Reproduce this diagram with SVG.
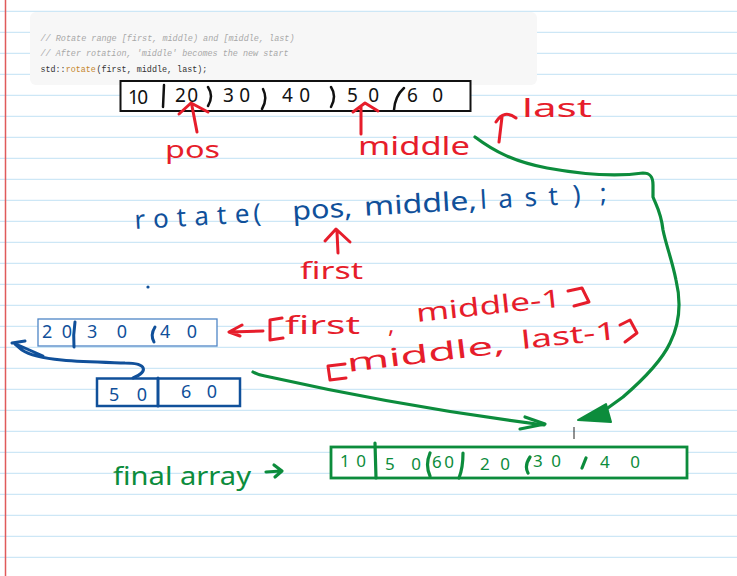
<svg xmlns="http://www.w3.org/2000/svg" width="737" height="576" viewBox="0 0 737 576">
<style>
.paper{stroke:#cde7f6;stroke-width:1.2;fill:none}
.code{font-family:"Liberation Mono","DejaVu Sans Mono",monospace;font-size:9.4px}
.cmt{fill:#a8a8a8;font-style:italic}
.hw{font-family:"Noto Sans","DejaVu Sans",sans-serif}
.blk{fill:#111}
.red{fill:#e61d2b}
.blue{fill:#10509a}
.green{fill:#0c8c3c}
.sRed{stroke:#e61d2b;fill:none;stroke-width:3;stroke-linecap:round;stroke-linejoin:round}
.sBlue{stroke:#10509a;fill:none;stroke-width:3;stroke-linecap:round;stroke-linejoin:round}
.sGreen{stroke:#0c8c3c;fill:none;stroke-width:3.2;stroke-linecap:round;stroke-linejoin:round}
.sBlk{stroke:#111;fill:none;stroke-width:2.5;stroke-linecap:round}
</style>
<rect width="737" height="576" fill="#ffffff"/>
<g id="paper">
<path class="paper" d="M0,11.3H737M0,32.3H737M0,53.3H737M0,74.3H737M0,95.3H737M0,116.3H737M0,137.3H737M0,158.3H737M0,179.3H737M0,200.3H737M0,221.3H737M0,242.3H737M0,263.3H737M0,284.3H737M0,305.3H737M0,326.3H737M0,347.3H737M0,368.3H737M0,389.3H737M0,410.3H737M0,431.3H737M0,452.3H737M0,473.3H737M0,494.3H737M0,515.3H737M0,536.3H737M0,557.3H737"/>
<path d="M5.5,0V576" stroke="#e05a5a" stroke-width="1.5"/>
</g>
<g id="code-block">
<rect x="30" y="12" width="507" height="73" rx="6" fill="#f7f7f7"/>
<text class="code cmt" x="40.5" y="40.5" textLength="254" lengthAdjust="spacingAndGlyphs">// Rotate range [first, middle) and [middle, last)</text>
<text class="code cmt" x="40.5" y="56.3" textLength="248" lengthAdjust="spacingAndGlyphs">// After rotation, 'middle' becomes the new start</text>
<text class="code" x="40.5" y="72" textLength="25" lengthAdjust="spacingAndGlyphs" fill="#333">std::</text>
<text class="code" x="65.8" y="72" textLength="30" lengthAdjust="spacingAndGlyphs" fill="#c5862b">rotate</text>
<text class="code" x="96.4" y="72" textLength="111" lengthAdjust="spacingAndGlyphs" fill="#333">(first, middle, last);</text>
</g>
<g id="array-original">
<rect x="120.5" y="81" width="350" height="30" fill="#ffffff" stroke="#111" stroke-width="2"/>
<path class="sBlk" d="M164,85 L163,107 M208,87 Q214,96 208,106 M263,89 Q268,99 262,109 M331,87 Q337,96 331,107 M404,88 Q395,96 394,110"/>
<g class="hw blk" font-size="19">
<text x="128" y="104" textLength="20">10</text>
<text x="175" y="102" textLength="23">20</text>
<text x="223" y="102" textLength="27">30</text>
<text x="282" y="102" textLength="28">40</text>
<text x="347" y="102" textLength="32">50</text>
<text x="407" y="102" textLength="36">60</text>
</g>
</g>
<g id="label-pos">
<path class="sRed" d="M197,132 L192,106 M179,114 L191,103 L208,112"/>
<text class="hw red" x="165" y="158" font-size="23" textLength="55" lengthAdjust="spacingAndGlyphs">pos</text>
</g>
<g id="label-middle">
<path class="sRed" d="M361,134 L361,107 M353,112 L365,103 L378,111"/>
<text class="hw red" x="358" y="155" font-size="25" textLength="112" lengthAdjust="spacingAndGlyphs">middle</text>
</g>
<g id="label-last">
<path class="sRed" d="M499,142 L502,117 M496,122 Q504,109 516,118"/>
<text class="hw red" x="522" y="117" font-size="25" textLength="70" lengthAdjust="spacingAndGlyphs">last</text>
</g>
<g id="call-rotate" class="hw blue" font-size="26" transform="rotate(-3.3 135 229)">
<text x="135" y="229" textLength="115">rotate</text>
<text x="254" y="229">(</text>
<text x="293" y="229" textLength="60" lengthAdjust="spacingAndGlyphs">pos,</text>
<text x="365" y="229" textLength="113" lengthAdjust="spacingAndGlyphs">middle,</text>
<text x="481" y="229" textLength="78">last</text>
<text x="574" y="229">)</text>
<text x="601" y="229">;</text>
</g>
<g id="label-first">
<path class="sRed" d="M338,253 L337,232 M325,241 L336,229 L350,242"/>
<text class="hw red" x="300" y="279" font-size="23" textLength="63" lengthAdjust="spacingAndGlyphs">first</text>
</g>
<circle id="dot" cx="148" cy="287" r="1.6" fill="#10509a"/>
<g id="array-left">
<rect x="38" y="319" width="179" height="27" fill="#ffffff" stroke="#4f86c6" stroke-width="1.3"/>
<path class="sBlue" stroke-width="2.5" d="M75,322 Q73,335 74,347 M155,327 Q150,335 154,342"/>
<g class="hw blue" font-size="18">
<text x="42" y="338" textLength="30">20</text>
<text x="87" y="338" textLength="40">30</text>
<text x="160" y="338" textLength="37">40</text>
</g>
</g>
<g id="array-right">
<rect x="97" y="378.5" width="143" height="27.5" fill="#ffffff" stroke="#10509a" stroke-width="2.5"/>
<path class="sBlue" stroke-width="2.5" d="M158,378 L158,406"/>
<g class="hw blue" font-size="18">
<text x="109" y="401" textLength="38">50</text>
<text x="181" y="398" textLength="36">60</text>
</g>
</g>
<g id="range-first">
<path class="sRed" d="M263,331 L229,332 M242,325 L229,332 L240,336 M282,318 L270,320 L270,340 L283,338"/>
<text class="hw red" x="285" y="334" font-size="25" textLength="75" lengthAdjust="spacingAndGlyphs">first</text>
<text class="hw red" x="388" y="333" font-size="24">,</text>
<text class="hw red" x="417" y="322" font-size="25" textLength="146" lengthAdjust="spacingAndGlyphs" transform="rotate(-6 417 322)">middle-1</text>
<path class="sRed" d="M568,291 L582,288 L589,302 L574,306"/>
</g>
<g id="range-middle">
<path class="sRed" d="M345,364 L328,366 L330,380 L346,378"/>
<text class="hw red" x="348" y="372" font-size="25" textLength="159" lengthAdjust="spacingAndGlyphs" transform="rotate(-7 348 372)">middle,</text>
<text class="hw red" x="522" y="349" font-size="25" textLength="96" lengthAdjust="spacingAndGlyphs" transform="rotate(-6 522 349)">last-1</text>
<path class="sRed" d="M620,325 L630,320 L637,333 L625,342"/>
</g>
<g id="label-final">
<text class="hw green" x="113" y="485" font-size="25" textLength="138" lengthAdjust="spacingAndGlyphs">final array</text>
<path class="sGreen" stroke-width="2.5" d="M266,472 L281,471 M274,465 L282,471 L275,477"/>
</g>
<g id="array-final">
<rect x="331" y="447" width="356" height="31" fill="#ffffff" stroke="#0c8c3c" stroke-width="2.8"/>
<path class="sGreen" stroke-width="4" d="M375,443 L376,478"/>
<path class="sGreen" stroke-width="2.5" d="M430,453 Q425,465 430,476 M463,453 Q463,468 459,478 M530,457 Q524,466 528,473 M586,458 L582,468"/>
<g class="hw green" font-size="17">
<text x="340" y="467" textLength="26">10</text>
<text x="385" y="470" textLength="36">50</text>
<text x="432" y="468" textLength="22">60</text>
<text x="480" y="470" textLength="30">20</text>
<text x="533" y="467" textLength="28">30</text>
<text x="600" y="468" textLength="40">40</text>
</g>
</g>
<g id="connectors">
<path class="sBlue" d="M133,378 C148,372 148,363 125,363 C90,362 40,362 22,350 L15,344 M12,343 L25,341 M18,345 L43,356"/>
<path class="sGreen" d="M475,137 C495,152 515,162 547,168 C580,174 615,177 643,173 C650,173 653,176 653,185 L653,197 C656,205 661,212 663,230 C666,245 672,260 676,280 C682,305 679,325 670,343 C662,360 645,378 623,397 L605,410"/>
<path d="M578,420 L606,404 L611,422 Z" fill="#0c8c3c" stroke="#0c8c3c" stroke-width="2" stroke-linejoin="round"/>
<path class="sGreen" d="M253,372 Q258,375 265,376 C350,395 450,413 544,425"/>
<path class="sGreen" d="M525,417 L545,424 L520,429"/>
<path d="M574,427 L574,439" stroke="#222" stroke-width="1"/>
</g>
</svg>
